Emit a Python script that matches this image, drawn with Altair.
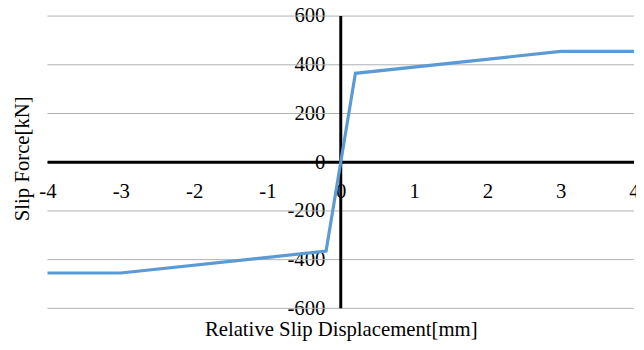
import altair as alt
import pandas as pd

disp = [-4, -3, -0.2, 0.2, 3, 4]
force = [-455, -455, -365, 365, 455, 455]
grid_vals = [-600, -400, -200, 0, 200, 400, 600]
x_ticks = [-4, -3, -2, -1, 0, 1, 2, 3, 4]

df = pd.DataFrame({"x": disp, "y": force})
gdf = pd.DataFrame({"g": grid_vals})
zdf = pd.DataFrame({"z": [0]})

FONT = "Liberation Serif"
FS = 21

xscale = alt.Scale(domain=[-4, 4], nice=False, zero=False)
yscale = alt.Scale(domain=[-600, 600], nice=False, zero=False)

W, H = 594, 296

XTITLE = "Relative Slip Displacement[mm]"
YTITLE = "Slip Force[kN]"

xaxis = alt.Axis(
    title=XTITLE,
    values=x_ticks,
    offset=-(H / 2),
    labelPadding=19,
    labelExpr="'' + datum.value",
    titleY=H / 2 + 28,
    titleBaseline="alphabetic",
)
yaxis = alt.Axis(
    title=YTITLE,
    values=grid_vals,
    offset=-(W / 2),
    labelPadding=16,
    labelExpr="'' + datum.value",
    titleX=-(W / 2) - 15,
    titleY=H / 2 - 4,
)

grid = alt.Chart(gdf).mark_rule(color="#b0b0b0", strokeWidth=1).encode(
    y=alt.Y("g:Q", scale=yscale, axis=yaxis, title=YTITLE)
)

xaxis_line = alt.Chart(zdf).mark_rule(color="black", strokeWidth=3).encode(
    y=alt.Y("z:Q", scale=yscale, axis=yaxis, title=YTITLE)
)
yaxis_line = alt.Chart(zdf).mark_rule(color="black", strokeWidth=3).encode(
    x=alt.X("z:Q", scale=xscale, axis=xaxis, title=XTITLE)
)

line = alt.Chart(df).mark_line(color="#5B9BD5", strokeWidth=3.2).encode(
    x=alt.X("x:Q", scale=xscale, axis=xaxis, title=XTITLE),
    y=alt.Y("y:Q", scale=yscale, axis=yaxis, title=YTITLE),
)

chart = (
    alt.layer(grid, xaxis_line, yaxis_line, line)
    .properties(
        width=W,
        height=H,
        background="white",
        autosize=alt.AutoSizeParams(type="none"),
        padding={"left": 40, "top": 6, "right": 2, "bottom": 40},
    )
    .configure_view(stroke=None)
    .configure_axis(
        grid=False,
        domain=False,
        ticks=False,
        labelFont=FONT,
        labelFontSize=FS,
        labelColor="black",
        labelFlush=False,
        labelOverlap=False,
        titleFont=FONT,
        titleFontSize=FS,
        titleFontWeight="normal",
        titleColor="black",
    )
)

chart.save("out.html", embed_options={"renderer": "svg", "actions": False})
